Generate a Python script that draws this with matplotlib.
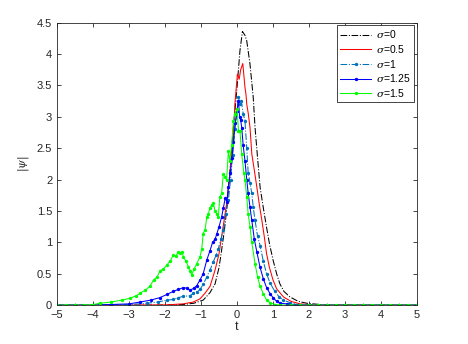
import matplotlib
matplotlib.use('Agg')
import matplotlib.pyplot as plt

# values
t0 = [-5, -3, -2, -1.5, -1.2, -0.94, -0.75, -0.61, -0.5, -0.43, -0.35, -0.29, -0.19, -0.1, 0,
      0.08, 0.15, 0.22, 0.27, 0.36, 0.45, 0.5, 0.57, 0.64, 0.73, 0.82, 0.9, 1.0, 1.1, 1.19,
      1.3, 1.47, 1.7, 1.94, 2.3, 3, 5]
psi0 = [0, 0, 0.002, 0.01, 0.03, 0.08, 0.2, 0.34, 0.6, 0.87, 1.2, 1.51, 2.2, 2.83, 3.47,
        4.05, 4.36, 4.3, 4.21, 3.84, 3.31, 2.83, 2.35, 1.88, 1.55, 1.24, 0.98, 0.72, 0.5, 0.34,
        0.22, 0.13, 0.06, 0.03, 0.01, 0, 0]

t05 = [-5, -2, -1.5, -1.21, -1.03, -0.89, -0.75, -0.61, -0.5, -0.43, -0.36, -0.29, -0.19,
       -0.1, -0.06, 0.01, 0.06, 0.1, 0.16, 0.22, 0.25, 0.27, 0.31, 0.36, 0.41, 0.48, 0.55,
       0.62, 0.69, 0.76, 0.82, 0.9, 1.0, 1.1, 1.29, 1.5, 1.75, 2.1, 5]
psi05 = [0, 0.003, 0.02, 0.05, 0.1, 0.19, 0.3, 0.56, 0.82, 1.09, 1.35, 1.62, 2.15,
         2.68, 3.2, 3.68, 3.6, 3.75, 3.85, 3.47, 3.35, 3.2, 3.06, 2.83, 2.41, 2.15, 1.88,
         1.6, 1.35, 1.08, 0.82, 0.6, 0.4, 0.26, 0.13, 0.06, 0.02, 0.005, 0]

t1 = [-5, -4.5, -4, -3.5, -3, -2.5, -2.2, -1.95, -1.77, -1.63, -1.49, -1.3, -1.21, -1.12,
      -1.03, -0.94, -0.84, -0.75, -0.66, -0.58, -0.52, -0.45, -0.38, -0.31, -0.24, -0.18,
      -0.12, -0.06, 0.0, 0.04, 0.08, 0.12, 0.17, 0.22, 0.27, 0.31, 0.36, 0.41, 0.45, 0.5,
      0.57, 0.64, 0.73, 0.82, 0.92, 1.05, 1.17, 1.29, 1.47, 1.7, 2.0, 2.5, 3, 3.5, 4, 4.5, 5]
psi1 = [0, 0, 0, 0.005, 0.01, 0.03, 0.05, 0.08, 0.09, 0.12, 0.14, 0.15, 0.19, 0.21,
        0.25, 0.33, 0.45, 0.56, 0.69, 0.8, 0.9, 1.05, 1.19, 1.45, 1.67, 2.0,
        2.4, 2.8, 3.1, 3.31, 3.2, 3.25, 3.05, 2.94, 2.5, 2.1, 1.95, 1.78, 1.56, 1.35,
        1.1, 0.95, 0.7, 0.5, 0.35, 0.22, 0.13, 0.08, 0.04, 0.01, 0, 0, 0, 0, 0, 0, 0]

t125 = [-5, -4.5, -4, -3.5, -3, -2.69, -2.4, -2.14, -1.95, -1.77, -1.63, -1.49, -1.4, -1.3,
        -1.2, -1.12, -1.03, -0.94, -0.84, -0.75, -0.68, -0.61, -0.56, -0.5, -0.43, -0.38,
        -0.33, -0.28, -0.24, -0.19, -0.14, -0.1, -0.05, 0.0, 0.04, 0.07, 0.1, 0.13, 0.17,
        0.22, 0.27, 0.31, 0.36, 0.41, 0.48, 0.55, 0.64, 0.73, 0.82, 0.92, 1.0, 1.1, 1.2,
        1.38, 1.6, 2.0, 2.5, 3, 3.5, 4, 4.5, 5]
psi125 = [0, 0, 0, 0.01, 0.02, 0.05, 0.08, 0.12, 0.17, 0.22, 0.25, 0.28, 0.27, 0.24,
          0.27, 0.31, 0.4, 0.5, 0.72, 0.87, 1.0, 1.05, 1.14, 1.25, 1.4, 1.55,
          1.7, 1.65, 1.88, 2.1, 2.35, 2.6, 2.9, 3.1, 3.26, 3.0, 2.95, 2.83, 2.55,
          2.3, 2.0, 1.78, 1.56, 1.35, 1.05, 0.85, 0.6, 0.42, 0.28, 0.18, 0.12, 0.06, 0.03,
          0.02, 0.005, 0, 0, 0, 0, 0, 0, 0]

t15 = [-5, -4.75, -4.5, -4.25, -4, -3.8, -3.5, -3.2, -2.97, -2.8, -2.69, -2.55, -2.42, -2.32,
       -2.22, -2.14, -2.05, -1.95, -1.86, -1.77, -1.7, -1.63, -1.58, -1.53, -1.49, -1.42,
       -1.35, -1.3, -1.26, -1.19, -1.12, -1.03, -0.98, -0.94, -0.89, -0.84, -0.8, -0.75,
       -0.7, -0.66, -0.61, -0.56, -0.52, -0.48, -0.43, -0.38, -0.33, -0.29, -0.24, -0.2,
       -0.15, -0.1, -0.06, 0.0, 0.04, 0.08, 0.13, 0.19, 0.22, 0.27, 0.31, 0.36, 0.41, 0.5,
       0.57, 0.64, 0.73, 0.82, 0.92, 1.05, 1.2, 1.5, 1.75, 2.0, 2.25, 2.5, 2.75, 3.0, 3.25,
       3.5, 3.75, 4.0, 4.25, 4.5, 4.75, 5]
psi15 = [0, 0, 0, 0, 0.01, 0.03, 0.05, 0.08, 0.11, 0.15, 0.19, 0.24, 0.3, 0.4,
         0.45, 0.55, 0.57, 0.64, 0.7, 0.8, 0.78, 0.85, 0.83, 0.85, 0.77, 0.7,
         0.61, 0.55, 0.48, 0.58, 0.66, 0.77, 0.9, 1.14, 1.2, 1.4, 1.45, 1.55,
         1.6, 1.62, 1.5, 1.45, 1.4, 1.72, 1.78, 2.09, 2.04, 1.99, 2.46, 2.3,
         2.55, 2.94, 3.05, 3.13, 2.78, 2.78, 2.41, 2.1, 2.0, 1.72, 1.45, 1.25, 1.0, 0.66,
         0.45, 0.3, 0.18, 0.08, 0.04, 0.01, 0, 0, 0, 0, 0, 0, 0, 0, 0,
         0, 0, 0, 0, 0, 0, 0]

labels = [r'$\sigma$=0', r'$\sigma$=0.5', r'$\sigma$=1', r'$\sigma$=1.25', r'$\sigma$=1.5']

plt.rcParams['font.family'] = ['Liberation Sans', 'DejaVu Sans']
plt.rcParams['mathtext.fontset'] = 'dejavuserif'

fig = plt.figure(figsize=(4.68, 3.44), dpi=100)
ax = fig.add_axes([0.122, 0.113, 0.769, 0.821])

lw = 0.75
ms = 2.8
ax.plot(t0, psi0, color='k', linestyle='-.', linewidth=lw, label=labels[0])
ax.plot(t05, psi05, color='r', linestyle='-', linewidth=lw, label=labels[1])
ax.plot(t1, psi1, color=(0, 0.447, 0.741), linestyle='-.', marker='.', markersize=ms,
        linewidth=lw, label=labels[2])
ax.plot(t125, psi125, color='b', linestyle='-', marker='.', markersize=ms,
        linewidth=lw, label=labels[3])
ax.plot(t15, psi15, color=(0, 1, 0), linestyle='-', marker='.', markersize=ms,
        linewidth=lw, label=labels[4])

ax.set_xlim(-5, 5)
ax.set_ylim(0, 4.5)
ax.set_xticks(range(-5, 6))
ax.set_yticks([0, 0.5, 1, 1.5, 2, 2.5, 3, 3.5, 4, 4.5])
ax.set_yticklabels(['0', '0.5', '1', '1.5', '2', '2.5', '3', '3.5', '4', '4.5'])

gray = (0.15, 0.15, 0.15)
ax.tick_params(direction='in', top=True, right=True, labelsize=8, colors=gray,
               length=3, width=0.6)
for s in ax.spines.values():
    s.set_color(gray)
    s.set_linewidth(0.6)

ax.set_xlabel('t', fontsize=9, color=gray, labelpad=1)
ax.set_ylabel(r'$|\psi|$', fontsize=8, color=gray, labelpad=4)

leg = ax.legend(loc='upper right', fontsize=7.5, handlelength=3.0, borderaxespad=0.25,
                fancybox=False, framealpha=1, labelspacing=0.25, borderpad=0.3,
                handletextpad=0.5)
leg.get_frame().set_edgecolor(gray)
leg.get_frame().set_linewidth(0.6)

plt.savefig('out.png', dpi=100)
plt.close()
